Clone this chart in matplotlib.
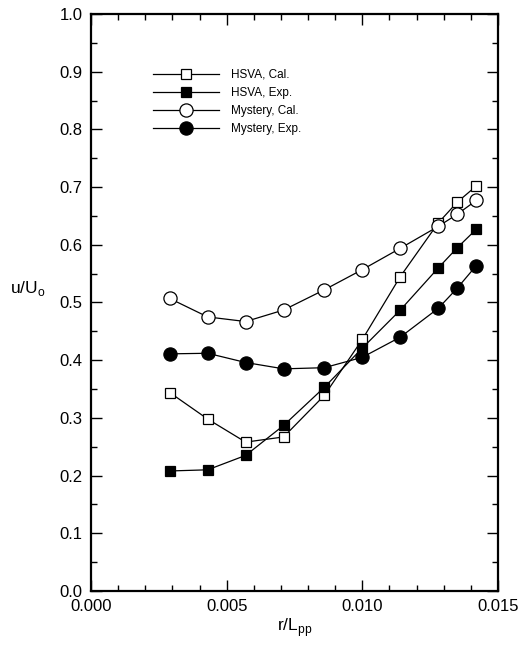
import matplotlib
matplotlib.use("Agg")
import matplotlib.pyplot as plt
from matplotlib.ticker import MultipleLocator, FormatStrFormatter

plt.rcParams['font.family'] = ['Liberation Sans', 'DejaVu Sans']

r_lpp = [0.0029, 0.0043, 0.0057, 0.0071, 0.0086, 0.0100, 0.0114, 0.0128, 0.0135, 0.0142]
hsva_cal = [0.344, 0.298, 0.258, 0.267, 0.339, 0.436, 0.545, 0.638, 0.674, 0.702]
hsva_exp = [0.208, 0.210, 0.235, 0.287, 0.353, 0.421, 0.487, 0.560, 0.595, 0.627]
mystery_cal = [0.507, 0.475, 0.467, 0.487, 0.522, 0.557, 0.594, 0.632, 0.653, 0.677]
mystery_exp = [0.411, 0.412, 0.396, 0.385, 0.387, 0.405, 0.440, 0.490, 0.525, 0.564]
labels = ["HSVA, Cal.", "HSVA, Exp.", "Mystery, Cal.", "Mystery, Exp."]

fig = plt.figure(figsize=(5.25, 6.49), dpi=100)
ax = fig.add_axes([0.1733, 0.0894, 0.7753, 0.889])

lw = 0.9
ax.plot(r_lpp, hsva_cal, '-', color='black', lw=lw, marker='s', ms=7,
        mfc='white', mec='black', mew=0.9, label=labels[0], zorder=3)
ax.plot(r_lpp, hsva_exp, '-', color='black', lw=lw, marker='s', ms=6.5,
        mfc='black', mec='black', mew=0.9, label=labels[1], zorder=3)
ax.plot(r_lpp, mystery_cal, '-', color='black', lw=lw, marker='o', ms=9.5,
        mfc='white', mec='black', mew=0.9, label=labels[2], zorder=3)
ax.plot(r_lpp, mystery_exp, '-', color='black', lw=lw, marker='o', ms=9.5,
        mfc='black', mec='black', mew=0.9, label=labels[3], zorder=3)

ax.set_xlim(0, 0.015)
ax.set_ylim(0, 1.0)
ax.xaxis.set_major_locator(MultipleLocator(0.005))
ax.xaxis.set_minor_locator(MultipleLocator(0.001))
ax.yaxis.set_major_locator(MultipleLocator(0.1))
ax.yaxis.set_minor_locator(MultipleLocator(0.05))
ax.xaxis.set_major_formatter(FormatStrFormatter('%.3f'))
ax.yaxis.set_major_formatter(FormatStrFormatter('%.1f'))
ax.tick_params(which='both', direction='in', top=True, right=True,
               labelsize=12, width=1.0, pad=6)
ax.tick_params(which='major', length=8)
ax.tick_params(which='minor', length=4)
for s in ax.spines.values():
    s.set_linewidth(1.6)

ax.set_xlabel("r/L$_\\mathregular{pp}$", fontsize=12.5, labelpad=1)
fig.text(0.02, 0.555, "u/U$_\\mathregular{o}$", fontsize=12.5, ha='left', va='center')

leg = ax.legend(loc='upper left', bbox_to_anchor=(0.152, 0.905), frameon=False,
                fontsize=8.5, handlelength=5.6, handletextpad=1.0,
                labelspacing=0.52, borderpad=0, borderaxespad=0, numpoints=1)

fig.savefig("out.png", dpi=100)
